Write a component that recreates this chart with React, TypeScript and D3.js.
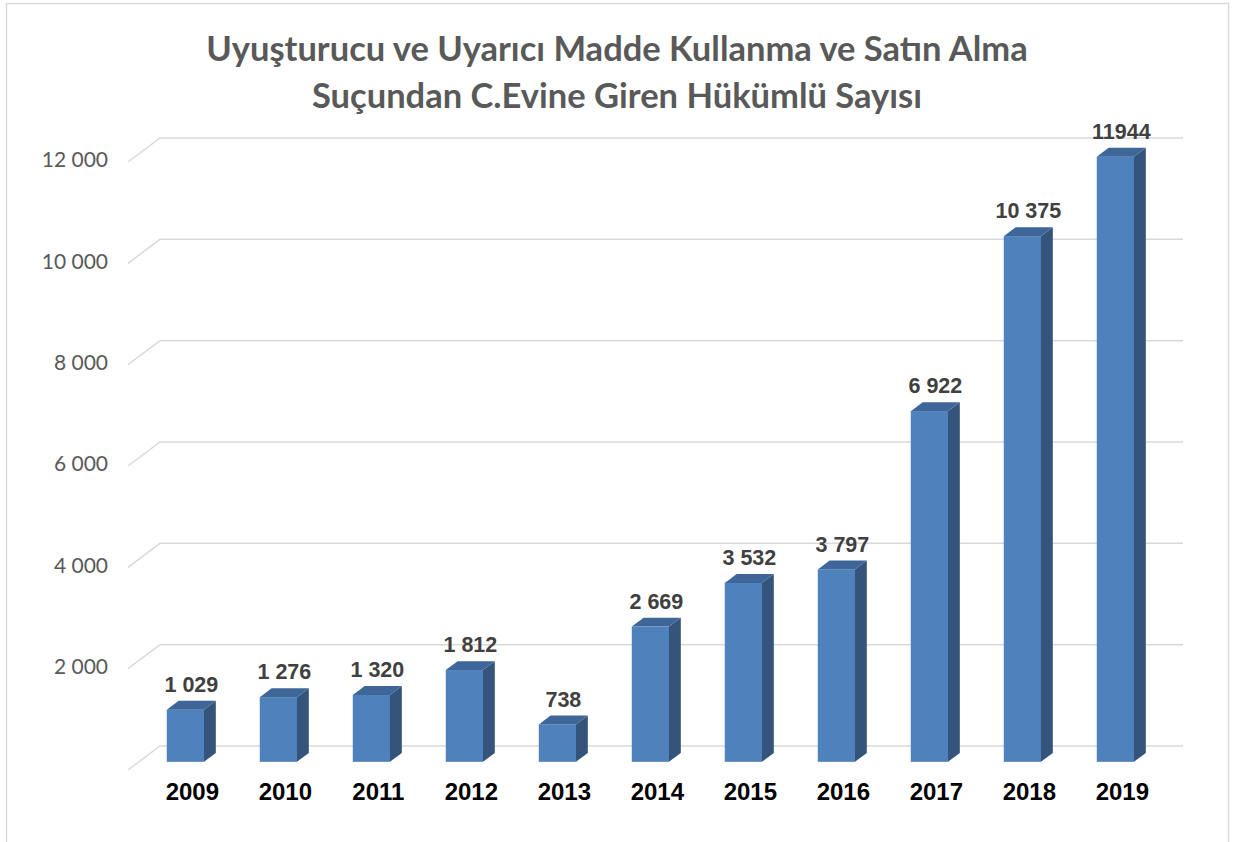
import React from "react";
import * as d3 from "d3";

const years = ["2009", "2010", "2011", "2012", "2013", "2014", "2015", "2016", "2017", "2018", "2019"];
const values = [1029, 1276, 1320, 1812, 738, 2669, 3532, 3797, 6922, 10375, 11944];
const valueLabels = ["1 029", "1 276", "1 320", "1 812", "738", "2 669", "3 532", "3 797", "6 922", "10 375", "11944"];
const yTicks = [0, 2000, 4000, 6000, 8000, 10000, 12000];
const yTickLabels = ["", "2 000", "4 000", "6 000", "8 000", "10 000", "12 000"];
const titleLines = ["Uyuşturucu ve Uyarıcı Madde Kullanma ve Satın Alma", "Suçundan C.Evine Giren Hükümlü Sayısı"];

const W = 1237;
const H = 842;
// back wall
const X0 = 160;
const X1 = 1183;
const Y0 = 746;
const Y1 = 138;
// full floor depth (front edge offset)
const DX = -32;
const DY = 24;

export default function App() {
  const x = d3.scaleBand<string>().domain(years).range([X0, X1]).padding(0);
  const y = d3.scaleLinear().domain([0, 12000]).range([Y0, Y1]);
  const bw = x.bandwidth() * 0.4;
  const frontZ = 0.66;
  const backZ = 0.29;
  const fdx = DX * frontZ;
  const fdy = DY * frontZ;
  const ddx = DX * (backZ - frontZ);
  const ddy = DY * (backZ - frontZ);

  return (
    <svg
      width={W}
      height={H}
      style={{ position: "absolute", left: 0, top: 0, background: "#fff" }}
    >
      <rect x={6.5} y={3.5} width={1222} height={H + 20} fill="#fff" stroke="#d9d9d9" strokeWidth={1.5} />
      {titleLines.map((t, i) => (
        <text
          key={i}
          x={617}
          y={61 + i * 47}
          textAnchor="middle"
          fontFamily="Lato, 'Open Sans', sans-serif"
          fontWeight="bold"
          fontSize={34.5}
          fill="#595959"
        >
          {t}
        </text>
      ))}
      {yTicks.map((t, i) => {
        const yy = y(t);
        return (
          <g key={t}>
            <polyline
              points={`${X0 + DX},${yy + DY} ${X0},${yy} ${X1},${yy}`}
              fill="none"
              stroke="#d9d9d9"
              strokeWidth={1.5}
            />
            {yTickLabels[i] && (
              <text
                x={108}
                y={yy + DY}
                textAnchor="end"
                dominantBaseline="middle"
                fontFamily="Lato, 'Open Sans', sans-serif"
                fontSize={21}
                fill="#595959"
              >
                {yTickLabels[i]}
              </text>
            )}
          </g>
        );
      })}
      {years.map((yr, i) => {
        const cx = (x(yr) as number) + x.bandwidth() / 2 + fdx;
        const xl = cx - bw / 2;
        const xr = cx + bw / 2;
        const yt = y(values[i]) + fdy;
        const yb = y(0) + fdy;
        const top = `${xl},${yt} ${xl + ddx},${yt + ddy} ${xr + ddx},${yt + ddy} ${xr},${yt}`;
        const side = `${xr},${yt} ${xr + ddx},${yt + ddy} ${xr + ddx},${yb + ddy} ${xr},${yb}`;
        return (
          <g key={yr}>
            <rect x={xl} y={yt} width={bw} height={yb - yt} fill="#4f81bd" />
            <polygon points={side} fill="#34547c" />
            <polygon points={top} fill="#3e6698" />
            <text
              x={cx + 6}
              y={yt + ddy - 9}
              textAnchor="middle"
              fontFamily="Arial, 'Liberation Sans', sans-serif"
              fontWeight="bold"
              fontSize={21.5}
              fill="#404040"
            >
              {valueLabels[i]}
            </text>
            <text
              x={cx + 7}
              y={800}
              textAnchor="middle"
              fontFamily="Arial, 'Liberation Sans', sans-serif"
              fontWeight="bold"
              fontSize={24}
              fill="#000"
            >
              {yr}
            </text>
          </g>
        );
      })}
    </svg>
  );
}
